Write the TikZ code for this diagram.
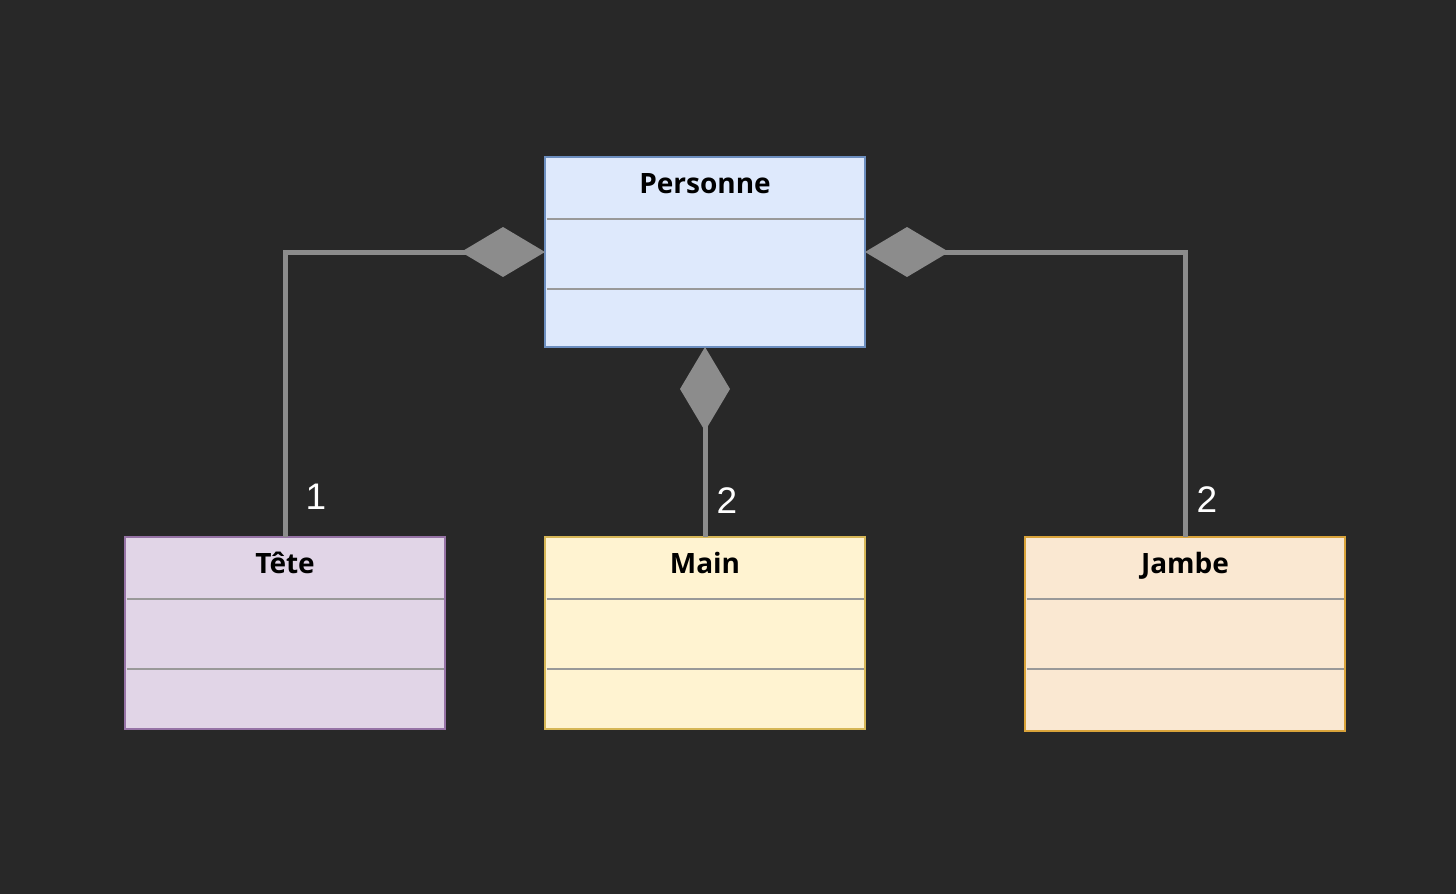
\documentclass[tikz,border=0pt]{standalone}
\usepackage{fontspec}
\setmainfont{Open Sans}
\newfontfamily\lblfont{Liberation Sans}
\usetikzlibrary{arrows.meta,calc}
\definecolor{bg}{HTML}{282828}
\definecolor{connc}{HTML}{8C8C8C}
\definecolor{sepc}{HTML}{999999}
\definecolor{pfill}{HTML}{DEE9FC}
\definecolor{pdraw}{HTML}{6C8EBF}
\definecolor{tfill}{HTML}{E1D5E7}
\definecolor{tdraw}{HTML}{9673A6}
\definecolor{mfill}{HTML}{FFF3D1}
\definecolor{mdraw}{HTML}{D6B656}
\definecolor{jfill}{HTML}{FAE8D2}
\definecolor{jdraw}{HTML}{D9A33A}
\tikzset{
  cls/.style={rectangle, line width=1.6pt, minimum width=320pt, minimum height=#1, inner sep=0pt, outer sep=0pt, anchor=north west},
  ttl/.style={font=\fontsize{28}{30}\selectfont\bfseries, text=black, anchor=center, text height=20pt, text depth=6pt, inner sep=0pt},
  sep/.style={draw=sepc, line width=1.8pt},
  conn/.style={draw=connc, line width=5pt, line join=miter},
  comp/.style={conn, -{Diamond[length=84pt,width=50pt,fill=connc,line width=0pt]}},
  lbl/.style={font=\lblfont\fontsize{37}{40}\selectfont, text=white, anchor=center, inner sep=0pt}
}
\begin{document}
\begin{tikzpicture}[x=1pt,y=-1pt]
\fill[bg] (0,0) rectangle (1456,894);
\useasboundingbox (0,0) rectangle (1456,894);
% classes
\node[cls=190pt, fill=pfill, draw=pdraw] (p) at (545,157) {};
\node[cls=192pt, fill=tfill, draw=tdraw] (t) at (125,537) {};
\node[cls=192pt, fill=mfill, draw=mdraw] (m) at (545,537) {};
\node[cls=194pt, fill=jfill, draw=jdraw] (j) at (1025,537) {};
% titles
\node[ttl] (pt) at ($(p.north)+(0,29)$) {Personne};
\node[ttl] (tt) at ($(t.north)+(0,29)$) {Tête};
\node[ttl] (mt) at ($(m.north)+(0,29)$) {Main};
\node[ttl] (jt) at ($(j.north)+(0,29)$) {Jambe};
% separators
\foreach \n in {p,t,m,j}{
  \draw[sep] ($(\n.north west)+(1.5,62)$) -- ($(\n.north east)+(-1.5,62)$);
  \draw[sep] ($(\n.north west)+(1.5,132)$) -- ($(\n.north east)+(-1.5,132)$);
}
% connectors
\draw[comp] (t.north) |- (p.west);
\draw[comp] (j.north) |- (p.east);
\draw[comp] (m.north) -- (p.south);
% multiplicities
\node[lbl] (l1) at (316,497) {1};
\node[lbl] (l2) at (727,501) {2};
\node[lbl] (l3) at (1207,500) {2};
\end{tikzpicture}
\end{document}
